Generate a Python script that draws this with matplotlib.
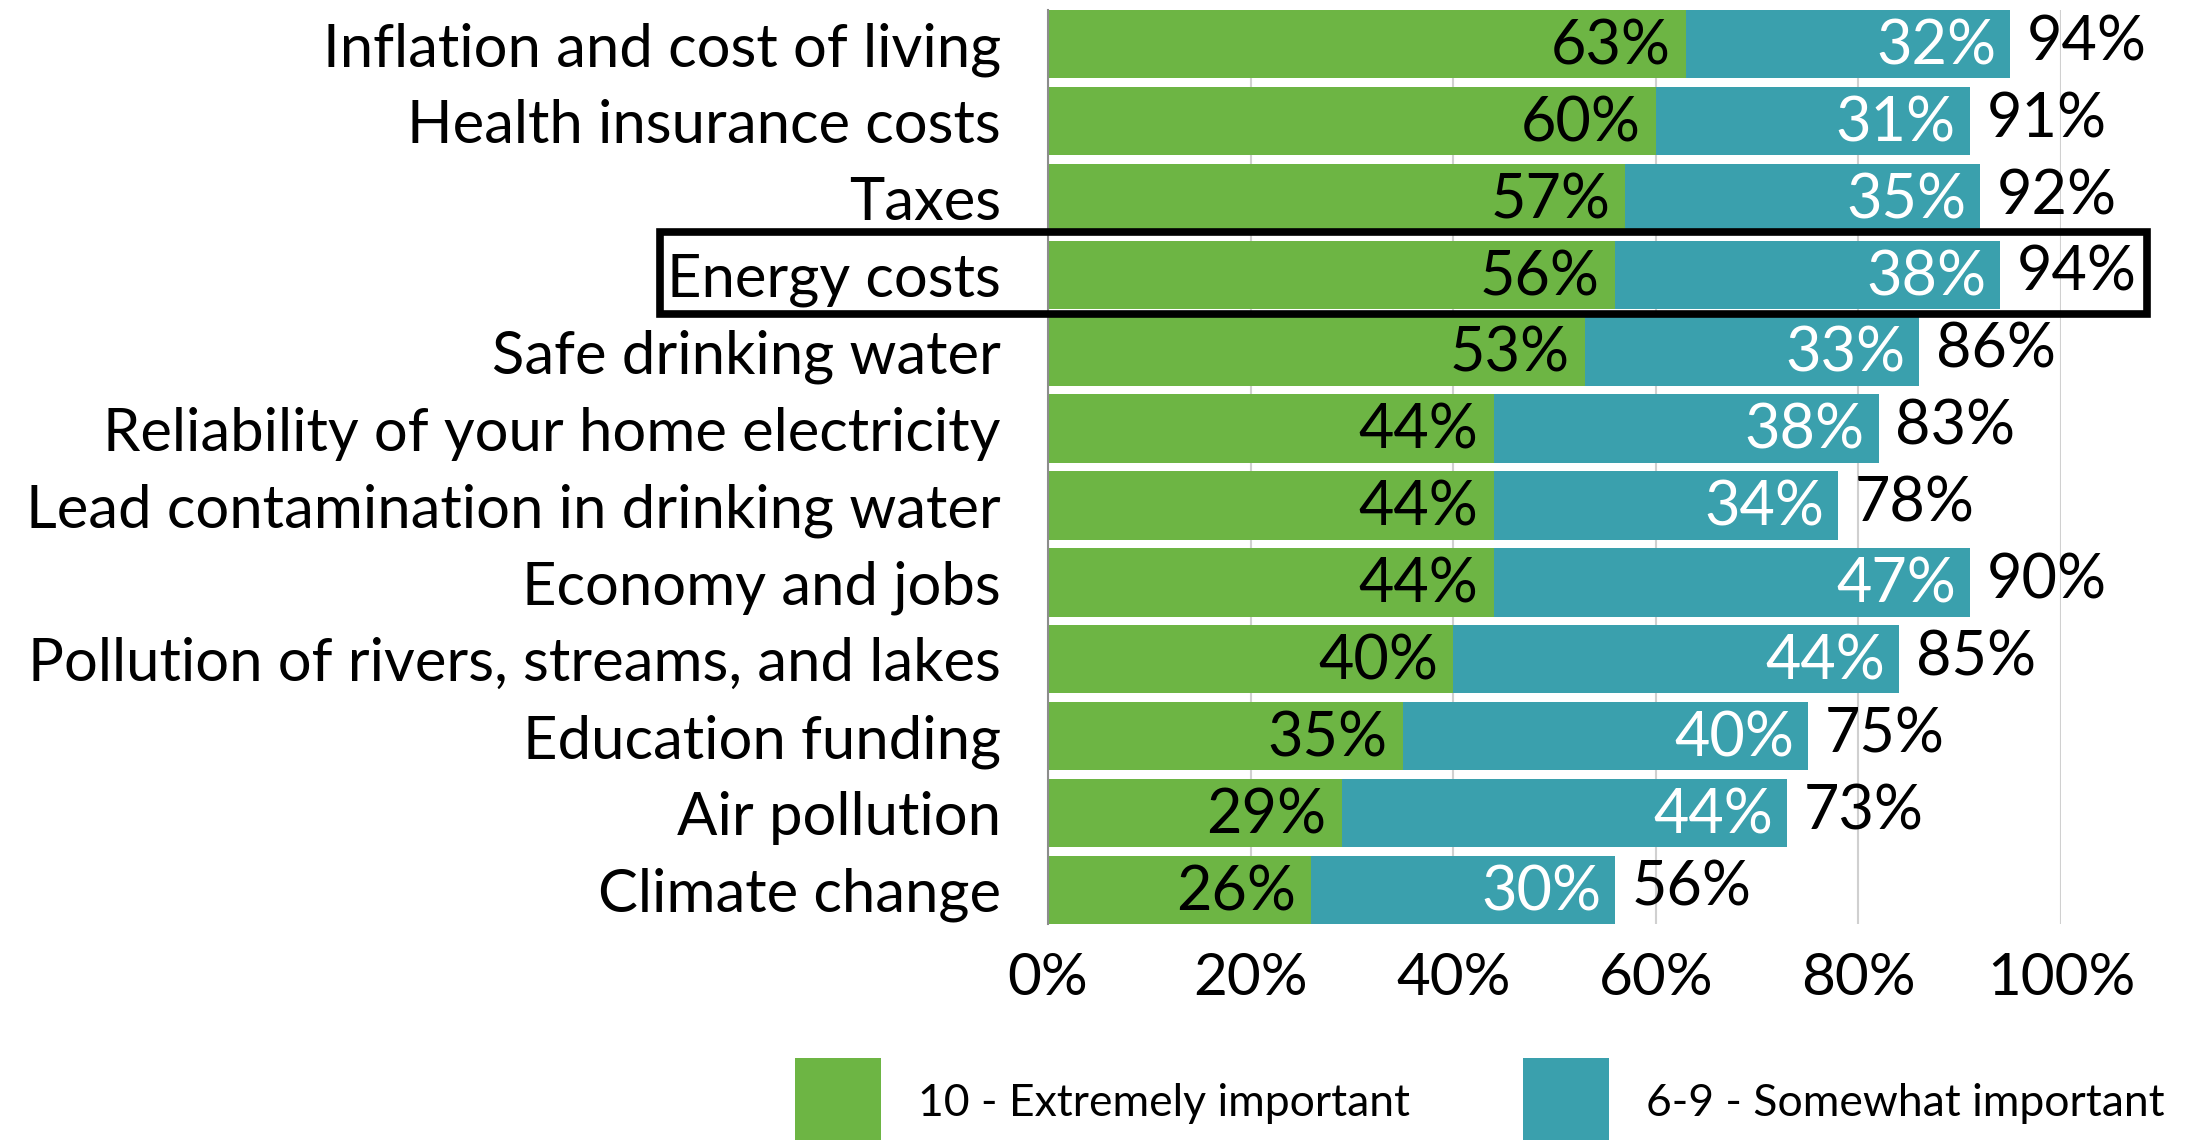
import numpy as np
import matplotlib.pyplot as plt
from matplotlib.patches import Rectangle

plt.rcParams['font.family'] = ['Lato', 'DejaVu Sans']

categories = ["Inflation and cost of living", "Health insurance costs", "Taxes",
              "Energy costs", "Safe drinking water", "Reliability of your home electricity",
              "Lead contamination in drinking water", "Economy and jobs",
              "Pollution of rivers, streams, and lakes", "Education funding",
              "Air pollution", "Climate change"]
extremely = [63, 60, 57, 56, 53, 44, 44, 44, 40, 35, 29, 26]
somewhat = [32, 31, 35, 38, 33, 38, 34, 47, 44, 40, 44, 30]
totals = [94, 91, 92, 94, 86, 83, 78, 90, 85, 75, 73, 56]
series_names = ["10 - Extremely important", "6-9 - Somewhat important"]

GREEN = '#6db544'
TEAL = '#3aa0ad'

W, H = 2209, 1140
fig = plt.figure(figsize=(W / 100, H / 100), dpi=100)
ax = fig.add_axes([1048 / W, 1 - 924 / H, (2061 - 1048) / W, (924 - 10) / H])

y = np.arange(len(categories))
bh = 0.89
ax.barh(y, extremely, height=bh, color=GREEN, zorder=2)
ax.barh(y, somewhat, left=extremely, height=bh, color=TEAL, zorder=2)

for i in range(len(categories)):
    g, t = extremely[i], somewhat[i]
    ax.annotate(f"{g}%", (g, i), xytext=(-11, -2), textcoords='offset points',
                ha='right', va='center', fontsize=44, color='black', zorder=3)
    ax.annotate(f"{t}%", (g + t, i), xytext=(-10, -2), textcoords='offset points',
                ha='right', va='center', fontsize=44, color='white', zorder=3)
    ax.annotate(f"{totals[i]}%", (g + t, i), xytext=(12, 1), textcoords='offset points',
                ha='left', va='center', fontsize=44, color='black', zorder=3)

ax.set_ylim(len(categories) - 1 + bh / 2, -bh / 2)
ax.set_xlim(0, 100)
ax.set_yticks(y)
ax.set_yticklabels(categories, fontsize=43)
ax.set_xticks(np.arange(0, 101, 20))
ax.set_xticklabels([f"{v}%" for v in range(0, 101, 20)], fontsize=42)
ax.tick_params(axis='y', length=0, pad=34)
ax.tick_params(axis='x', length=0, pad=20)
ax.grid(axis='x', color='#d0d0d0', linewidth=1.5, zorder=0)
ax.set_axisbelow(True)
for s in ['top', 'right', 'bottom']:
    ax.spines[s].set_visible(False)
ax.spines['left'].set_color('#8c8c8c')
ax.spines['left'].set_linewidth(1.5)

# highlight box around Energy costs row
fig.add_artist(Rectangle((660 / W, 1 - 314 / H), (2147 - 660) / W, (314 - 232) / H,
                         transform=fig.transFigure, fill=False, edgecolor='black',
                         linewidth=5.5, clip_on=False))

# legend
for x0, col, name in [(795, GREEN, series_names[0]), (1523, TEAL, series_names[1])]:
    fig.add_artist(Rectangle((x0 / W, 0), 86 / W, (1140 - 1058) / H,
                             transform=fig.transFigure, facecolor=col, edgecolor='none'))
    fig.text((x0 + 123) / W, 1 - 1103 / H, name, fontsize=32, ha='left', va='center')

fig.savefig('out.png', dpi=100)
